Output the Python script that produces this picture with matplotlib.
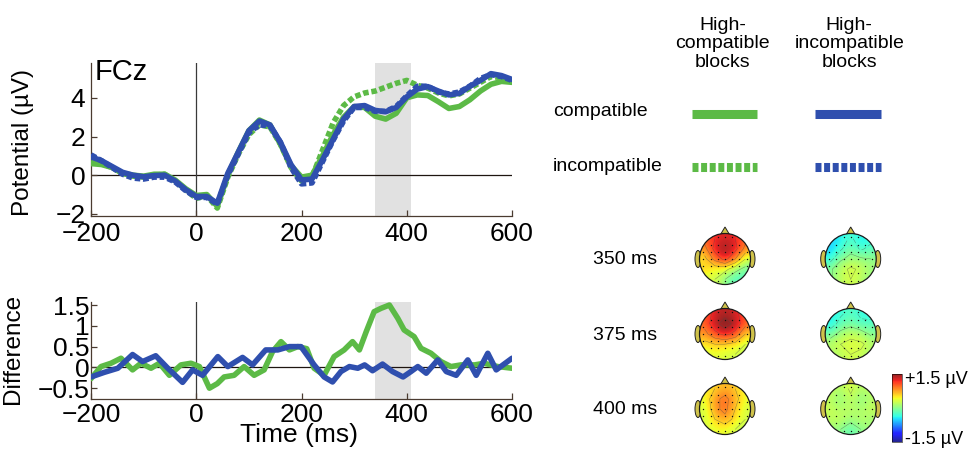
import numpy as np
import matplotlib
matplotlib.use("Agg")
import matplotlib.pyplot as plt
import matplotlib as mpl
from matplotlib.patches import Circle, Polygon, Ellipse

plt.rcParams['font.family'] = ['Liberation Sans', 'DejaVu Sans']
plt.rcParams['lines.scale_dashes'] = False

# ---------------- data ----------------
time_ms = list(range(-200, 601, 20))
hc_compatible = [0.6, 0.55, 0.4, 0.1, 0.0, -0.05, 0.05, 0.05, -0.25, -0.7,
                 -1.05, -1.0, -1.6, 0.0, 1.2, 2.3, 2.85, 2.6, 1.6, 0.5,
                 -0.1, 0.0, 1.0, 2.1, 3.0, 3.55, 3.5, 3.05, 2.9, 3.2,
                 4.0, 4.15, 4.12, 3.8, 3.45, 3.55, 3.9, 4.35, 4.7, 4.85, 4.8]
hc_incompatible = [0.7, 0.6, 0.4, 0.1, -0.05, -0.1, 0.0, 0.05, -0.3, -0.75,
                   -1.2, -1.05, -1.7, -0.1, 1.1, 2.1, 2.6, 2.5, 1.6, 0.4,
                   -0.3, -0.1, 1.3, 2.7, 3.6, 4.05, 4.25, 4.35, 4.55, 4.75,
                   4.9, 4.65, 4.5, 4.25, 4.1, 4.2, 4.5, 4.8, 5.1, 5.05, 4.9]
hi_compatible = [0.95, 0.75, 0.45, 0.15, 0.0, -0.08, -0.02, 0.0, -0.3, -0.75,
                 -1.1, -1.1, -1.45, 0.1, 1.2, 2.3, 2.8, 2.6, 1.7, 0.55,
                 -0.25, -0.2, 0.8, 1.85, 2.9, 3.55, 3.6, 3.35, 3.28, 3.5,
                 4.05, 4.45, 4.58, 4.35, 4.15, 4.23, 4.6, 4.9, 5.25, 5.15, 4.95]
hi_incompatible = [1.05, 0.75, 0.4, 0.05, -0.15, -0.2, -0.1, -0.1, -0.35, -0.8,
                   -1.15, -1.15, -1.5, 0.0, 1.1, 2.2, 2.6, 2.55, 1.7, 0.4,
                   -0.45, -0.4, 0.7, 1.8, 2.8, 3.5, 3.5, 3.3, 3.3, 3.55,
                   4.1, 4.6, 4.6, 4.3, 4.2, 4.3, 4.6, 5.0, 5.2, 5.1, 4.9]

hc_diff_t = [-200, -181, -162, -143, -121, -105, -86, -70, -51, -29,
             -10, 6, 25, 40, 53, 72, 91, 110, 129, 145,
             161, 177, 193, 210, 224, 243, 262, 281, 297, 310,
             323, 338, 351, 367, 383, 395, 414, 427, 446, 465,
             484, 503, 529, 547, 573, 600]
hc_diff = [-0.27, 0.02, 0.1, 0.22, -0.06, 0.1, -0.02, 0.1, -0.19, 0.06,
           0.1, 0.02, -0.5, -0.39, -0.23, -0.19, 0.02, -0.19, -0.06, 0.38,
           0.62, 0.42, 0.5, 0.45, -0.02, -0.19, 0.26, 0.42, 0.62, 0.42,
           0.86, 1.34, 1.42, 1.5, 1.18, 0.9, 0.74, 0.46, 0.34, 0.14,
           0.02, 0.06, 0.06, 0.1, 0.02, -0.02]
hi_diff_t = [-200, -175, -149, -121, -102, -77, -54, -26, -7, 12,
             41, 60, 88, 107, 132, 155, 177, 199, 224, 243,
             259, 275, 291, 307, 320, 335, 354, 373, 393, 408,
             421, 437, 459, 475, 494, 516, 532, 554, 570, 600]
hi_diff = [-0.23, -0.12, -0.02, 0.31, 0.14, 0.28, -0.02, -0.36, -0.06, -0.19,
           0.26, 0.02, 0.24, 0.06, 0.42, 0.42, 0.5, 0.5, 0.06, -0.23,
           -0.35, -0.1, 0.02, -0.02, 0.06, -0.08, 0.08, -0.1, -0.23, -0.1,
           0.02, -0.14, 0.18, -0.1, -0.19, 0.18, -0.19, 0.34, -0.06, 0.22]

window_ms = [340, 408]
x_ticks = [-200, 0, 200, 400, 600]
top_yticks = [-2, 0, 2, 4]
diff_yticks = [-0.5, 0, 0.5, 1, 1.5]
diff_yticklabels = ['\u22120.5', '0', '0.5', '1', '1.5']

column_headers = ['High-\ncompatible\nblocks', 'High-\nincompatible\nblocks']
row_labels = ['compatible', 'incompatible']
topo_times = ['350 ms', '375 ms', '400 ms']

# topographies (5x5 grids, front row first), µV
topo_hc = [
    [[1.0, 1.2, 1.3, 1.2, 1.0], [0.8, 1.3, 1.5, 1.3, 0.8], [0.5, 1.0, 1.3, 0.9, 0.3],
     [0.6, 0.4, 0.4, 0.1, -0.1], [0.3, 0.3, 0.0, -0.25, -0.2]],
    [[1.0, 1.3, 1.4, 1.3, 1.0], [1.0, 1.4, 1.65, 1.4, 1.0], [0.8, 1.1, 1.3, 1.1, 0.6],
     [0.5, 0.6, 0.6, 0.5, 0.3], [0.3, 0.4, 0.3, 0.3, 0.2]],
    [[0.4, 0.6, 0.7, 0.6, 0.4], [0.4, 0.8, 1.0, 0.7, 0.4], [0.3, 0.8, 1.0, 0.6, 0.3],
     [0.3, 0.6, 0.8, 0.5, 0.3], [0.3, 0.4, 0.4, 0.3, 0.2]],
]
topo_hi = [
    [[-0.5, -0.45, -0.25, -0.45, -0.4], [-0.55, -0.35, -0.1, -0.35, -0.2], [-0.4, -0.05, 0.1, 0.05, 0.0],
     [-0.05, 0.2, 0.35, 0.25, 0.1], [-0.05, 0.2, 0.3, 0.2, 0.0]],
    [[-0.45, -0.35, -0.2, -0.35, -0.45], [-0.45, -0.2, -0.1, -0.25, -0.2], [-0.15, 0.1, 0.25, 0.15, -0.05],
     [0.2, 0.3, 0.35, 0.35, 0.2], [0.1, 0.2, 0.3, 0.25, 0.1]],
    [[0.25, 0.15, 0.35, 0.15, 0.25], [0.2, 0.0, 0.25, 0.0, 0.15], [0.25, 0.15, 0.2, 0.1, 0.25],
     [0.2, 0.25, 0.1, 0.2, 0.1], [0.1, 0.0, -0.2, 0.0, 0.1]],
]
topo_range = [-1.5, 1.5]
cbar_labels = ['+1.5 \u00b5V', '-1.5 \u00b5V']

# ---------------- style ----------------
W, H = 974, 451
GREEN = '#5cba46'
BLUE = '#2f4fae'
SPINE = '#4a3b30'
DASH = (0, (4.0, 2.0))

fig = plt.figure(figsize=(W / 100, H / 100), dpi=100)
fig.patch.set_facecolor('white')


def px_axes(left, top, right, bottom):
    return [left / W, 1 - bottom / H, (right - left) / W, (bottom - top) / H]


def style_axes(ax):
    for s in ['top', 'right']:
        ax.spines[s].set_visible(False)
    for s in ['left', 'bottom']:
        ax.spines[s].set_color(SPINE)
        ax.spines[s].set_linewidth(0.9)
    ax.tick_params(direction='in', length=4, width=0.9, color=SPINE,
                   labelsize=19, pad=4)
    ax.set_xlim(-200, 600)
    ax.set_xticks(x_ticks)
    ax.set_xticklabels([str(v).replace('-', '\u2212') for v in x_ticks])
    ax.axhline(0, color='#1e1510', lw=0.9, zorder=1)
    ax.axvline(0, color='#3a3a3a', lw=0.9, zorder=1)
    ax.axvspan(window_ms[0], window_ms[1], color='#e1e1e1', lw=0, zorder=0)
    ax.set_facecolor('none')


# top ERP axes
ax1 = fig.add_axes(px_axes(91, 63, 512, 216))
style_axes(ax1)
ax1.set_ylim(-2.11, 5.8)
ax1.set_yticks(top_yticks)
ax1.set_yticklabels([str(v).replace('-', '\u2212') for v in top_yticks])
kw = dict(lw=4.0, solid_capstyle='round', solid_joinstyle='round', zorder=3)
ax1.plot(time_ms, hc_compatible, color=GREEN, **kw)
ax1.plot(time_ms, hc_incompatible, color=GREEN, linestyle=DASH, lw=4.0, zorder=3)
ax1.plot(time_ms, hi_compatible, color=BLUE, **kw)
ax1.plot(time_ms, hi_incompatible, color=BLUE, linestyle=DASH, lw=4.0, zorder=4)
ax1.tick_params(axis='x', pad=4)
ax1.tick_params(axis='y', pad=4)
fig.text(95 / W, 1 - 80 / H, 'FCz', fontsize=21, ha='left', va='baseline')

# difference axes
ax2 = fig.add_axes(px_axes(91, 301.7, 512, 399))
style_axes(ax2)
ax2.set_ylim(-0.76, 1.58)
ax2.set_yticks(diff_yticks)
ax2.set_yticklabels(diff_yticklabels)
ax2.plot(hc_diff_t, hc_diff, color=GREEN, **kw)
ax2.plot(hi_diff_t, hi_diff, color=BLUE, **kw)
ax2.tick_params(axis='x', pad=3)
ax2.tick_params(axis='y', pad=1)

fig.text(22.7 / W, 1 - 142 / H, 'Potential (\u00b5V)', rotation=90,
         fontsize=17.5, ha='center', va='center')
fig.text(13 / W, 1 - 349 / H, 'Difference', rotation=90,
         fontsize=17.5, ha='center', va='center')
fig.text(299 / W, 1 - 435 / H, 'Time (ms)', fontsize=19, ha='center', va='center')

# ---------------- right panel overlay ----------------
ov = fig.add_axes([0, 0, 1, 1], zorder=5)
ov.set_xlim(0, W)
ov.set_ylim(H, 0)
ov.axis('off')

col_x = [722.7, 849.3]
for x, txt in zip(col_x, column_headers):
    ov.text(x, 44, txt, fontsize=14, ha='center', va='center',
            multialignment='center', linespacing=1.13)

row_y = [111.7, 166.7]
for y, txt in zip(row_y, row_labels):
    ov.text(553, y, txt, fontsize=14, ha='left', va='center')

seg_x = [(691.7, 757.3), (815.3, 881.3)]
line_y = [113.7, 167.3]
colors = [GREEN, BLUE]
for (x0, x1), c in zip(seg_x, colors):
    ov.plot([x0, x1], [line_y[0], line_y[0]], color=c, lw=6.5, solid_capstyle='butt')
    ov.plot([x0, x1], [line_y[1], line_y[1]], color=c, lw=6.5,
            linestyle=(0, (4.3, 1.9)), dash_capstyle='butt')

# softened jet colormap (printed look)
base = plt.get_cmap('jet')(np.linspace(0, 1, 256))
base[:, :3] = base[:, :3] * 0.86 + 0.14
cmap = mpl.colors.ListedColormap(base)
norm = mpl.colors.Normalize(topo_range[0], topo_range[1])
head_cx = [725, 850.7]
head_cy = [259, 334, 409]
R = 25.5
dot_off = np.arange(-3, 4) * 7.2
EAR = '#cfc24a'

for i, ty in enumerate(topo_times):
    ov.text(593, head_cy[i] + 1, ty, fontsize=14, ha='left', va='center')
    for j, grids in enumerate([topo_hc, topo_hi]):
        cx, cy = head_cx[j], head_cy[i]
        Z = np.array(grids[i])
        for sgn in (-1, 1):
            ov.add_patch(Ellipse((cx + sgn * (R + 1.5), cy), 6, 17,
                                 facecolor=EAR, edgecolor='#222222',
                                 lw=0.7, zorder=6))
        ov.add_patch(Polygon([[cx - 4.5, cy - R + 1], [cx, cy - R - 6.5], [cx + 4.5, cy - R + 1]],
                             closed=True, facecolor=EAR,
                             edgecolor='#222222', lw=0.7, zorder=6))
        clip = Circle((cx, cy), R, transform=ov.transData)
        im = ov.imshow(Z, cmap=cmap, norm=norm, interpolation='bicubic',
                       extent=(cx - R, cx + R, cy + R, cy - R), origin='upper', zorder=7)
        im.set_clip_path(clip)
        gx = np.linspace(cx - R + R / 5, cx + R - R / 5, 5)
        gy = np.linspace(cy - R + R / 5, cy + R - R / 5, 5)
        cs = ov.contour(gx, gy, Z, levels=np.linspace(-1.5, 1.5, 11),
                        colors='#4a4a4a', linewidths=0.35, alpha=0.6, zorder=8)
        cs.set_clip_path(clip)
        ex, ey = np.meshgrid(dot_off, dot_off)
        m = np.hypot(ex, ey) < R * 0.9
        ov.scatter(cx + ex[m], cy + ey[m], s=1.0, c='#111111', lw=0, zorder=9)
        ov.add_patch(Circle((cx, cy), R, facecolor='none', edgecolor='#1a1a1a',
                            lw=0.9, zorder=10))
        ov.set_xlim(0, W)
        ov.set_ylim(H, 0)

# colorbar
cax = fig.add_axes(px_axes(891.7, 374, 901.7, 441.7), zorder=6)
cb = mpl.colorbar.ColorbarBase(cax, cmap=cmap, norm=norm, orientation='vertical')
cb.set_ticks([])
cb.outline.set_linewidth(0.4)
ov.text(905, 380, cbar_labels[0], fontsize=13, ha='left', va='center')
ov.text(905, 440, cbar_labels[1], fontsize=13, ha='left', va='center')

fig.savefig('out.png', dpi=100)
